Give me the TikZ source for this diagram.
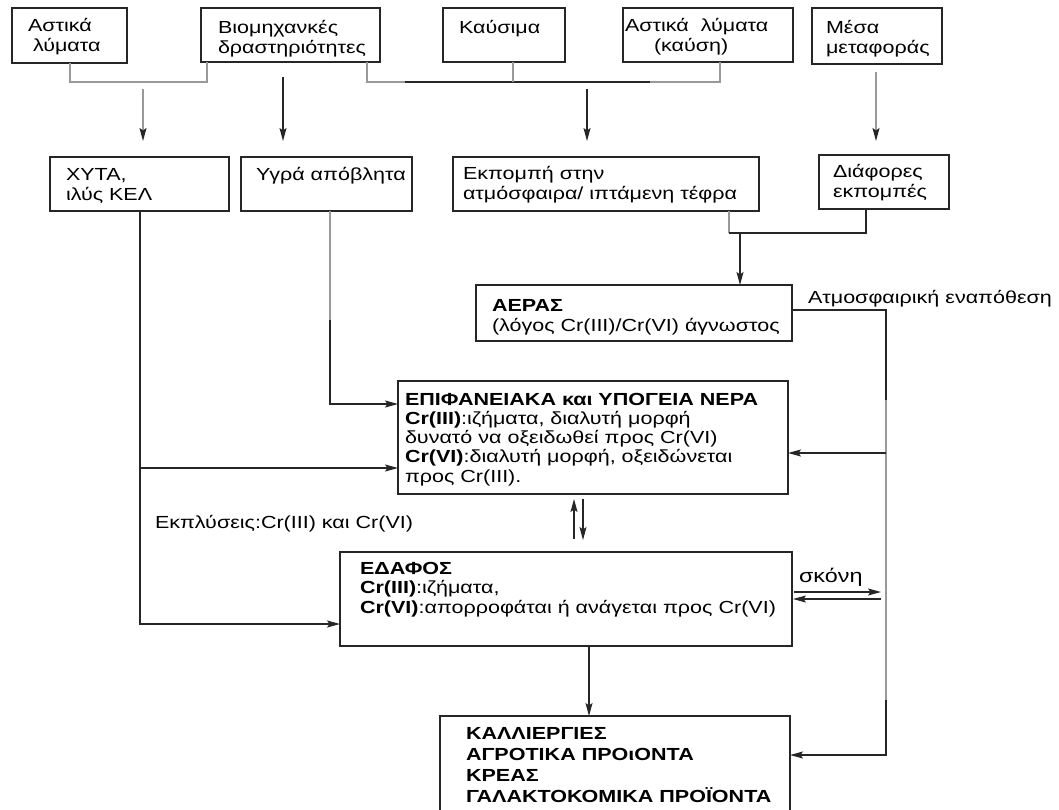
\documentclass[tikz,border=0pt]{standalone}
\usepackage{fontspec}
\setmainfont{Liberation Sans}[FakeStretch=1.23]
\usetikzlibrary{arrows.meta}
\newcommand\dfont{\fontsize{17.5}{20}\selectfont}
\begin{document}
\begin{tikzpicture}[x=1pt,y=-1pt,
  box/.style={draw=black!85, line width=1.3pt, inner sep=0pt, outer sep=0pt, anchor=north west, fill=none},
  txt/.style={anchor=base west, inner sep=0pt, outer sep=0pt, align=left, font=\dfont},
  ln/.style={draw=black!85, line width=1.2pt},
  gl/.style={draw=black!40, line width=1.2pt},
  tip/.style={-{Stealth[length=13pt,width=7pt,inset=2.5pt,color=black!85]}},
  arr/.style={ln, tip},
  garr/.style={gl, tip}]
\clip (0,0) rectangle (1059,809);
\fill[white] (0,0) rectangle (1059,809);
% boxes
\node[box, minimum width=115pt, minimum height=55pt] (b1) at (12,8) {};
\node[box, minimum width=179pt, minimum height=54pt] (b2) at (201,8) {};
\node[box, minimum width=122pt, minimum height=54pt] (b3) at (443,8) {};
\node[box, minimum width=170pt, minimum height=54pt] (b4) at (623,8) {};
\node[box, minimum width=130pt, minimum height=56pt] (b5) at (812,8) {};
\node[box, minimum width=179pt, minimum height=54pt] (c1) at (50,157) {};
\node[box, minimum width=171pt, minimum height=54pt] (c2) at (241,157) {};
\node[box, minimum width=306pt, minimum height=54pt] (c3) at (453,157) {};
\node[box, minimum width=130pt, minimum height=54pt] (c4) at (819,155) {};
\node[box, minimum width=316pt, minimum height=56pt] (aer) at (476,285) {};
\node[box, minimum width=390pt, minimum height=113pt] (ner) at (398,381) {};
\node[box, minimum width=452pt, minimum height=94pt] (eda) at (340,552) {};
\node[box, minimum width=350pt, minimum height=110pt] (kal) at (440,716) {};
% texts (anchor = baseline of the last line)
\node[txt] (t1) at (28,51) {Αστικά\\\hspace*{5pt}λύματα};
\node[txt] (t2) at (218,53) {Βιομηχανκές\\δραστηριότητες};
\node[txt] (t3) at (459,33) {Καύσιμα};
\node[txt] (t4) at (625,51) {Αστικά\ \ λύματα\\\hspace*{29pt}(καύση)};
\node[txt] (t5) at (826,53) {Μέσα\\μεταφοράς};
\node[txt] (u1) at (66,200) {ΧΥΤΑ,\\ιλύς ΚΕΛ};
\node[txt] (u2) at (256,180) {Υγρά απόβλητα};
\node[txt] (u3) at (463,199) {Εκπομπή στην\\ατμόσφαιρα/ ιπτάμενη τέφρα};
\node[txt] (u4) at (833,197) {Διάφορες\\εκπομπές};
\node[txt] (taer) at (492,331) {\textbf{ΑΕΡΑΣ}\\(λόγος Cr(III)/Cr(VI) άγνωστος};
\node[txt, font=\fontsize{17.5}{19.2}\selectfont] (tner) at (405,482) {\textbf{ΕΠΙΦΑΝΕΙΑΚΑ και ΥΠΟΓΕΙΑ ΝΕΡΑ}\\\textbf{Cr(III)}:ιζήματα, διαλυτή μορφή\\δυνατό να οξειδωθεί προς Cr(VI)\\\textbf{Cr(VI)}:διαλυτή μορφή, οξειδώνεται\\προς Cr(III).};
\node[txt, font=\fontsize{17.5}{19.5}\selectfont] (teda) at (360,613) {\textbf{ΕΔΑΦΟΣ}\\\textbf{Cr(III)}:ιζήματα,\\\textbf{Cr(VI)}:απορροφάται ή ανάγεται προς Cr(VI)};
\node[txt, font=\bfseries\fontsize{17.5}{21}\selectfont] (tkal) at (466,802) {ΚΑΛΛΙΕΡΓΙΕΣ\\ΑΓΡΟΤΙΚΑ ΠΡΟιΟΝΤΑ\\ΚΡΕΑΣ\\ΓΑΛΑΚΤΟΚΟΜΙΚΑ ΠΡΟΪΟΝΤΑ};
\node[txt] (lat) at (808,303) {Ατμοσφαιρική εναπόθεση};
\node[txt] (lek) at (155,528) {Εκπλύσεις:Cr(III) και Cr(VI)};
\node[txt, font=\fontsize{19}{22}\selectfont] (lsk) at (799,582) {σκόνη};
% free arrow ends
\coordinate (a1s) at (143,89);  \coordinate (a1e) at (143,141);
\coordinate (a2s) at (283,77);  \coordinate (a2e) at (283,141);
\coordinate (a3s) at (587,89);  \coordinate (a3e) at (587,141);
\coordinate (a4s) at (876,72);  \coordinate (a4e) at (876,141);
% top brackets
\draw[gl] (b1.south -| 70,0) -- (70,82) -- (207,82) -- (b2.south -| 207,0);
\draw[gl] (b2.south -| 367,0) -- (367,82) -- (720,82) -- (b4.south -| 720,0);
\draw[ln] (405,82) -- (650,82);
\draw[gl] (b3.south -| 513,0) -- (513,82);
\draw[garr] (a1s) -- (a1e);
\draw[arr] (a2s) -- (a2e);
\draw[arr] (a3s) -- (a3e);
\draw[garr] (a4s) -- (a4e);
% left side
\draw[arr] (c1.south -| 140,0) |- (eda.west |- 0,624);
\draw[arr] (140,468) -- (ner.west |- 0,468);
\draw[gl] (c2.south -| 330,0) -- (330,320);
\draw[arr] (330,320) |- (ner.west |- 0,404);
% emissions to air
\draw[gl] (c3.south -| 729,0) -- (729,233);
\draw[ln] (729,233) -- (866,233) -- (c4.south -| 866,0);
\draw[arr] (740,233) -- (aer.north -| 740,0);
% atmospheric deposition
\draw[ln] (aer.east |- 0,310) -- (886,310) -- (886,400);
\draw[gl] (886,400) -- (886,700);
\draw[arr] (886,700) |- (kal.east |- 0,755);
\draw[arr] (886,453) -- (ner.east |- 0,453);
% water <-> soil
\coordinate (w1) at (574,539); \coordinate (w2) at (574,499);
\coordinate (w3) at (583,499); \coordinate (w4) at (583,540);
\draw[arr] (w1) -- (w2);
\draw[arr] (w3) -- (w4);
% dust
\coordinate (d1) at (794,592); \coordinate (d2) at (881,592);
\coordinate (d3) at (881,599); \coordinate (d4) at (793,599);
\draw[arr] (d1) -- (d2);
\draw[arr] (d3) -- (d4);
% soil to crops
\draw[arr] (eda.south -| 589,0) -- (kal.north -| 589,0);
\end{tikzpicture}
\end{document}
